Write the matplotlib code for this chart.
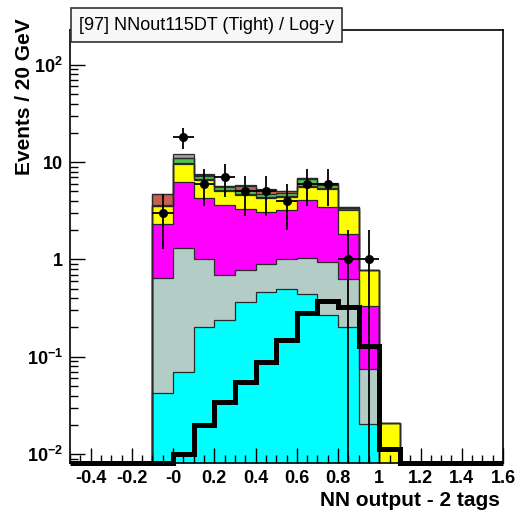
import numpy as np
import matplotlib
matplotlib.use("Agg")
import matplotlib.pyplot as plt
from matplotlib.ticker import FixedLocator, FixedFormatter, LogLocator, NullFormatter, MultipleLocator

plt.rcParams["font.family"] = ["Liberation Sans", "DejaVu Sans"]
plt.rcParams["mathtext.fontset"] = "custom"
plt.rcParams["mathtext.rm"] = "Liberation Sans:bold"
plt.rcParams["mathtext.default"] = "rm"

# bin edges of the stacked backgrounds (NN output, 0.1 wide)
bin_lo = -0.1
bin_w = 0.1

# background components, bottom to top
cyan = [0.042, 0.070, 0.20, 0.236, 0.364, 0.461, 0.50, 0.444, 0.266, 0.20, 0.0205, 0]
teal = [0.60, 1.25, 0.82, 0.45, 0.41, 0.44, 0.52, 0.60, 0.67, 0.43, 0.055, 0]
magenta = [1.69, 4.91, 3.25, 2.90, 2.55, 2.16, 2.17, 3.07, 2.51, 1.21, 0.26, 0]
yellow = [1.18, 3.24, 2.22, 1.41, 1.23, 1.18, 1.15, 1.42, 1.79, 1.42, 0.45, 0.021]
dkgreen = [0.05, 0.25, 0.15, 0.12, 0.10, 0.10, 0.10, 0.20, 0.15, 0.10, 0, 0]
green = [0.05, 1.20, 0.65, 0.50, 0.58, 0.42, 0.33, 0.90, 0.50, 0.05, 0, 0]
red = [1.13, 0.20, 0.15, 0.07, 0.52, 0.47, 0.23, 0.16, 0.10, 0.05, 0, 0]
gray = [0.02, 1.00, 0.15, 0.06, 0.04, 0.03, 0.03, 0.11, 0.08, 0.03, 0, 0]

# signal (black line) and observed data
signal = [0, 0.0101, 0.0197, 0.034, 0.055, 0.089, 0.150, 0.282, 0.375, 0.323, 0.129, 0.0112]
data = [3, 18, 6, 7, 5, 5, 4, 6, 6, 1, 1, 0]

xticks = [-0.4, -0.2, 0.0, 0.2, 0.4, 0.6, 0.8, 1.0, 1.2, 1.4, 1.6]
xtick_labels = ["-0.4", "-0.2", "-0", "0.2", "0.4", "0.6", "0.8", "1", "1.2", "1.4", "1.6"]
yticks = [1e-2, 1e-1, 1, 10, 100]
ytick_labels = ["10$^{-2}$", "10$^{-1}$", "1", "10", "10$^{2}$"]

layers = [cyan, teal, magenta, yellow, dkgreen, green, red, gray]
colors = ["#00ffff", "#b3cdc6", "#ff00ff", "#ffff00", "#2b6b2b", "#4fc24f", "#c9604f", "#a3a3a3"]

xmin, xmax = -0.5, 1.6
ymin, ymax = 0.0081, 228

fig = plt.figure(figsize=(5.16, 5.16), dpi=100)
ax = fig.add_axes([70 / 516, 1 - 463 / 516, 433 / 516, 433 / 516])
ax.set_yscale("log")

n = len(cyan)
edges = bin_lo + bin_w * np.arange(n + 1)
floor = 1e-5

cum = np.full(n, floor)
tops = []
for vals, col in zip(layers, colors):
    new = cum + np.array(vals)
    ax.stairs(new, edges, baseline=cum, fill=True, color=col, lw=0)
    tops.append(new)
    cum = new
for t in tops:
    ax.stairs(t, edges, baseline=floor, color="#2a2a2a", lw=0.9)

# signal over full axis range, empty bins sit on the frame
full_edges = np.round(np.arange(xmin, xmax + 1e-9, bin_w), 3)
sig_full = np.zeros(len(full_edges) - 1)
i0 = int(round((bin_lo - xmin) / bin_w))
sig_full[i0:i0 + n] = signal
sig_full = np.clip(sig_full, ymin * 1.01, None)
ax.stairs(sig_full, full_edges, color="black", lw=3.6, baseline=None, zorder=5, clip_on=False)

# data points with sqrt(N) errors
d = np.array(data, dtype=float)
centers = edges[:-1] + bin_w / 2
m = d > 0
err = np.sqrt(d[m])
lo = np.minimum(err, d[m] - 1e-6)
ax.errorbar(centers[m], d[m], yerr=[lo, err], xerr=bin_w / 2, fmt="o", color="black",
            ms=5.5, elinewidth=1.3, capsize=0, zorder=6)

ax.set_xlim(xmin, xmax)
ax.set_ylim(ymin, ymax)

ax.xaxis.set_major_locator(FixedLocator(xticks))
ax.xaxis.set_major_formatter(FixedFormatter(xtick_labels))
ax.xaxis.set_minor_locator(MultipleLocator(0.05))
ax.yaxis.set_major_locator(FixedLocator(yticks))
ax.yaxis.set_major_formatter(FixedFormatter(ytick_labels))
ax.yaxis.set_minor_locator(LogLocator(base=10, subs=np.arange(2, 10)))
ax.yaxis.set_minor_formatter(NullFormatter())

ax.tick_params(which="both", direction="in", top=False, right=False, width=1.0)
ax.tick_params(which="major", length=11, labelsize=13, pad=5)
ax.tick_params(which="minor", length=6)
for lab in ax.get_xticklabels() + ax.get_yticklabels():
    lab.set_fontweight("bold")
for s in ax.spines.values():
    s.set_linewidth(1.2)

fig.text(25 / 516, 1 - 18 / 516, "Events / 20 GeV", rotation=90, ha="center", va="top",
         fontsize=15, fontweight="bold")
fig.text(500 / 516, 1 - 500 / 516, "NN output - 2 tags", ha="right", va="center",
         fontsize=15, fontweight="bold")
fig.text(79 / 516, 1 - 25 / 516, "[97] NNout115DT (Tight) / Log-y", ha="left", va="center",
         fontsize=13, bbox=dict(boxstyle="square,pad=0.45", facecolor="#f7f7f7",
                                edgecolor="#333333", lw=1.2))

fig.savefig("out.png", dpi=100)
